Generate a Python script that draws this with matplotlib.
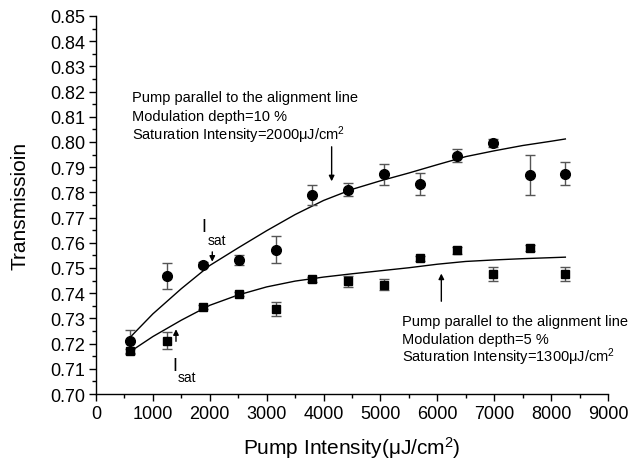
import matplotlib
matplotlib.use("Agg")
import matplotlib.pyplot as plt
from matplotlib.ticker import MultipleLocator

plt.rcParams['font.family'] = ['Liberation Sans', 'DejaVu Sans']
plt.rcParams['mathtext.fontset'] = 'custom'
plt.rcParams['mathtext.rm'] = 'Liberation Sans'
plt.rcParams['mathtext.it'] = 'Liberation Sans'

# data
pump = [600, 1240, 1880, 2520, 3160, 3800, 4430, 5070, 5700, 6340, 6980, 7620, 8250]
trans_10 = [0.7209, 0.7467, 0.7512, 0.7532, 0.7573, 0.7790, 0.7811, 0.7871, 0.7832,
            0.7946, 0.7996, 0.7869, 0.7874]
err_10 = [0.0046, 0.0052, 0.0010, 0.0020, 0.0053, 0.0040, 0.0027, 0.0040, 0.0043,
          0.0026, 0.0016, 0.0080, 0.0045]
trans_5 = [0.7169, 0.7212, 0.7346, 0.7397, 0.7337, 0.7456, 0.7447, 0.7433, 0.7538,
           0.7570, 0.7476, 0.7580, 0.7476]
err_5 = [0.0010, 0.0034, 0.0008, 0.0008, 0.0028, 0.0010, 0.0022, 0.0022, 0.0010,
         0.0015, 0.0026, 0.0012, 0.0026]

fit_x = [600, 1000, 1500, 2000, 2500, 3000, 3500, 4000, 4500, 5000, 5500, 6000,
         6500, 7000, 7500, 8000, 8250]
fit_10 = [0.7225, 0.7318, 0.7418, 0.7510, 0.7580, 0.7648, 0.7712, 0.7768, 0.7812,
          0.7846, 0.7877, 0.7910, 0.7942, 0.7965, 0.7986, 0.8003, 0.8012]
fit_5 = [0.7168, 0.7228, 0.7293, 0.7352, 0.7393, 0.7425, 0.7448, 0.7464, 0.7477,
         0.7489, 0.7501, 0.7515, 0.7526, 0.7532, 0.7537, 0.7541, 0.7543]

fig = plt.figure(figsize=(6.43, 4.64), dpi=100)
ax = fig.add_axes([0.1493, 0.1487, 0.7963, 0.8147])

ax.plot(fit_x, fit_10, color='black', lw=1.0, zorder=2)
ax.plot(fit_x, fit_5, color='black', lw=1.0, zorder=2)
ax.errorbar(pump, trans_10, yerr=err_10, fmt='o', color='black', ms=7,
            ecolor='#555555', elinewidth=1.0, capsize=3.5, capthick=1.0, zorder=3)
ax.errorbar(pump, trans_5, yerr=err_5, fmt='s', color='black', ms=5.2,
            ecolor='#555555', elinewidth=1.0, capsize=3.5, capthick=1.0, zorder=3)

ax.set_xlim(0, 9000)
ax.set_ylim(0.70, 0.85)
ax.xaxis.set_major_locator(MultipleLocator(1000))
ax.xaxis.set_minor_locator(MultipleLocator(500))
ax.yaxis.set_major_locator(MultipleLocator(0.01))
ax.yaxis.set_minor_locator(MultipleLocator(0.005))
ax.yaxis.set_major_formatter(matplotlib.ticker.FormatStrFormatter('%.2f'))
for s in ['top', 'right']:
    ax.spines[s].set_visible(False)
for s in ['left', 'bottom']:
    ax.spines[s].set_linewidth(1.0)
ax.tick_params(which='major', direction='out', length=5, width=1.0, labelsize=13,
               colors='black', pad=3)
ax.tick_params(which='minor', direction='out', length=3, width=1.0)

ax.set_xlabel('Pump Intensity(\u03bcJ/cm$^{2}$)', fontsize=15)
ax.set_ylabel('Transmissioin', fontsize=15)
ax.yaxis.set_label_coords(-0.13, 0.5)
ax.xaxis.set_label_coords(0.5, -0.105)

fs = 10.5
ax.text(627, 0.8179, 'Pump parallel to the alignment line', fontsize=fs, va='center')
ax.text(627, 0.8103, 'Modulation depth=10 %', fontsize=fs, va='center')
ax.text(627, 0.8030, 'Saturation Intensity=2000\u03bcJ/cm$^{2}$', fontsize=fs, va='center')

ax.text(5373, 0.7291, 'Pump parallel to the alignment line', fontsize=fs, va='center')
ax.text(5373, 0.7218, 'Modulation depth=5 %', fontsize=fs, va='center')
ax.text(5373, 0.7151, 'Saturation Intensity=1300\u03bcJ/cm$^{2}$', fontsize=fs, va='center')

arrow = dict(arrowstyle='-|>', color='black', lw=1.0, mutation_scale=8)
ax.annotate('', xy=(4142, 0.7833), xytext=(4142, 0.7992), arrowprops=arrow)
ax.annotate('', xy=(6070, 0.7489), xytext=(6070, 0.7357), arrowprops=arrow)
ax.annotate('', xy=(2044, 0.7514), xytext=(2044, 0.7575), arrowprops=arrow)
ax.annotate('', xy=(1406, 0.7268), xytext=(1406, 0.7198), arrowprops=arrow)

ax.text(1900, 0.7663, 'I', fontsize=13, va='center', ha='center')
ax.text(1960, 0.7612, 'sat', fontsize=10, va='center', ha='left')
ax.text(1380, 0.7112, 'I', fontsize=13, va='center', ha='center')
ax.text(1440, 0.7068, 'sat', fontsize=10, va='center', ha='left')

fig.savefig('out.png', dpi=100)
